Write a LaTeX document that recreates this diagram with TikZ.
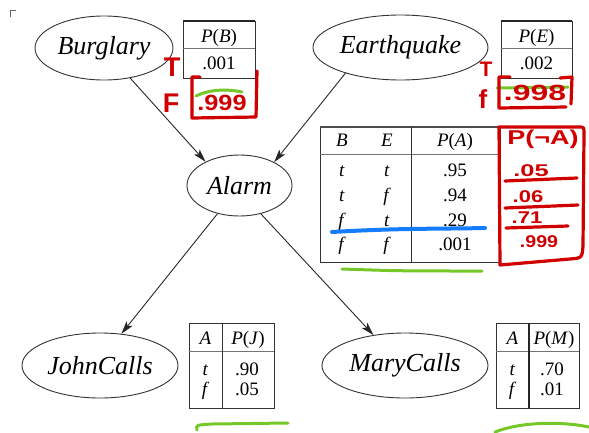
\documentclass[tikz,border=0pt]{standalone}
\usepackage{fontspec}
\setmainfont{Liberation Serif}
\newfontfamily\handfont{Liberation Sans}
\usetikzlibrary{arrows.meta,shapes.geometric}

\definecolor{inkred}{RGB}{208,0,0}
\definecolor{inkblue}{RGB}{20,125,255}
\definecolor{inkgreen}{RGB}{118,200,40}

\tikzset{
  var/.style={ellipse, draw=black!80, line width=0.9pt, inner sep=0pt,
              font=\fontsize{26}{30}\selectfont\itshape},
  link/.style={draw=black!85, line width=0.9pt,
               -{Stealth[length=13pt,width=7.5pt,inset=3pt]}},
  frame/.style={draw=black!80, line width=0.9pt},
  rule/.style={draw=black!55, line width=0.7pt},
  cell/.style={inner sep=0pt, anchor=base, font=\fontsize{19}{22}\selectfont},
  ink/.style={draw=inkred, line width=3.2pt, line cap=round, line join=round},
  blueink/.style={draw=inkblue, line width=4pt, line cap=round},
  greenink/.style={draw=inkgreen, line width=3pt, line cap=round},
  inktext/.style={inner sep=0pt, text=inkred,
                  font=\handfont\bfseries\fontsize{#1}{#1}\selectfont},
}

\begin{document}
\begin{tikzpicture}[x=1pt,y=-1pt]
\path[use as bounding box] (0,0) rectangle (589,432);

% small corner mark
\draw[black!60, line width=1pt] (10,17) -- (10,10) -- (16,10);

% ---- variables ----
\node[var, minimum width=138pt, minimum height=64pt] (burglary)   at (104,48)     {Burglary};
\node[var, minimum width=175pt, minimum height=65pt] (earthquake) at (400.5,47.5) {Earthquake};
\node[var, minimum width=105pt, minimum height=61pt] (alarm)      at (239.5,185.5){Alarm};
\node[var, minimum width=156pt, minimum height=65pt] (john)       at (100,365.5)  {JohnCalls};
\node[var, minimum width=166pt, minimum height=65pt] (mary)       at (405,365.5)  {MaryCalls};

% ---- dependencies ----
\draw[link] (burglary.-49)   -- (alarm.145);
\draw[link] (earthquake.205) -- (alarm.34);
\draw[link] (alarm.232)      -- (john.56);
\draw[link] (alarm.-53)      -- (mary.136);

% ---- P(B) ----
\draw[frame] (183,21) rectangle (255,78);
\draw[draw=black!85, line width=1.8pt] (183,21) -- (255,21);
\draw[rule] (183,48) -- (255,48);
\node[cell] (pb-head) at (219,42.5) {\textit{P}(\textit{B})};
\node[cell] (pb-val)  at (219,69.5) {.001};

% ---- P(E) ----
\draw[frame] (501,21) rectangle (572,78);
\draw[draw=black!85, line width=1.8pt] (501,21) -- (572,21);
\draw[rule] (501,48) -- (572,48);
\node[cell] (pe-head) at (536.5,42.5) {\textit{P}(\textit{E})};
\node[cell] (pe-val)  at (536.5,69.5) {.002};

% ---- P(A | B, E) ----
\draw[frame] (320,127) rectangle (500,262);
\draw[draw=black!70, line width=1.4pt] (320,127) -- (500,127);
\draw[rule] (320,154) -- (500,154);
\draw[frame] (411,127) -- (411,262);
\node[cell] (pa-b) at (342,146.5) {\textit{B}};
\node[cell] (pa-e) at (387,146.5) {\textit{E}};
\node[cell] (pa-p) at (455,146.5) {\textit{P}(\textit{A})};
\node[cell] (pa-b1) at (342,176.5) {\textit{t}};
\node[cell] (pa-e1) at (387,176.5) {\textit{t}};
\node[cell] (pa-v1) at (455,176.5) {.95};
\node[cell] (pa-b2) at (342,201.5) {\textit{t}};
\node[cell] (pa-e2) at (387,201.5) {\textit{f}};
\node[cell] (pa-v2) at (455,201.5) {.94};
\node[cell] (pa-b3) at (342,226) {\textit{f}};
\node[cell] (pa-e3) at (387,226) {\textit{t}};
\node[cell] (pa-v3) at (455,226) {.29};
\node[cell] (pa-b4) at (342,250.5) {\textit{f}};
\node[cell] (pa-e4) at (387,250.5) {\textit{f}};
\node[cell] (pa-v4) at (455,250.5) {.001};

% ---- P(J | A) ----
\draw[frame] (189,323) rectangle (274,408);
\draw[rule] (189,351) -- (274,351);
\draw[frame] (222,323) -- (222,408);
\node[cell] (pj-a)  at (205.5,344.5) {\textit{A}};
\node[cell] (pj-p)  at (248,344.5)   {\textit{P}(\textit{J})};
\node[cell] (pj-a1) at (205.5,375.5) {\textit{t}};
\node[cell] (pj-v1) at (247,375.5)   {.90};
\node[cell] (pj-a2) at (205.5,395.5) {\textit{f}};
\node[cell] (pj-v2) at (247,395.5)   {.05};

% ---- P(M | A) ----
\draw[frame] (496,323) rectangle (579,408);
\draw[rule] (496,351) -- (579,351);
\draw[draw=black!85, line width=1.3pt] (529,323) -- (529,408);
\node[cell] (pm-a)  at (512.5,344.5) {\textit{A}};
\node[cell] (pm-p)  at (554,344.5)   {\textit{P}(\textit{M})};
\node[cell] (pm-a1) at (512.5,375.5) {\textit{t}};
\node[cell] (pm-v1) at (552,375.5)   {.70};
\node[cell] (pm-a2) at (512.5,395.5) {\textit{f}};
\node[cell] (pm-v2) at (552,395.5)   {.01};

% ---- hand-written notes ----
% complement of P(B)
\node[inktext=27] (b-true)  at (172,67)  {T};
\node[inktext=27] (b-false) at (171,103) {F};
\draw[greenink] (196,96) .. controls (210,89) and (228,89) .. (242,92);
\draw[ink] (200,77) -- (192,77) -- (192,118) -- (256,117) -- (257,71);
\node[inktext=22] (b-comp) at (222,103) {\scalebox{1.15}[1]{.999}};

% complement of P(E)
\node[inktext=21] (e-true)  at (486,69) {T};
\node[inktext=26] (e-false) at (483,99) {f};
\draw[greenink] (497,88) -- (568,87);
\draw[ink] (510,77) -- (499,77) -- (499,108) -- (566,107);
\draw[ink] (560,78) -- (572,77) -- (571,104);
\node[inktext=22] (e-comp) at (535,93) {\scalebox{1.45}[1]{.998}};

% complement column for the alarm
\draw[ink] (500,265) -- (499,127) -- (579,127) .. controls (584,127) .. (584,134)
           -- (583,246) .. controls (582,258) .. (570,259) -- cycle;
\draw[ink] (505,181) -- (577,178);
\draw[ink] (505,208) -- (578,205);
\draw[ink] (506,228) -- (568,226);
\node[inktext=20] (na-head) at (543,139) {\scalebox{1.35}[1]{P(¬A)}};
\node[inktext=17] (na-1) at (531,171) {\scalebox{1.5}[1]{.05}};
\node[inktext=17] (na-2) at (528,197) {\scalebox{1.3}[1]{.06}};
\node[inktext=17] (na-3) at (527,218) {\scalebox{1.3}[1]{.71}};
\node[inktext=17] (na-4) at (539,242) {\scalebox{1.15}[1]{.999}};

% strokes across and under the tables
\draw[blueink] (332,232) .. controls (400,228) and (440,229) .. (485,228);
\draw[greenink] (342,269) .. controls (400,271) .. (482,271);
\draw[greenink] (197,430) .. controls (196,425) .. (212,424) -- (288,423);
\draw[greenink] (495,432) .. controls (520,422) and (560,421) .. (589,427);
\end{tikzpicture}
\end{document}
